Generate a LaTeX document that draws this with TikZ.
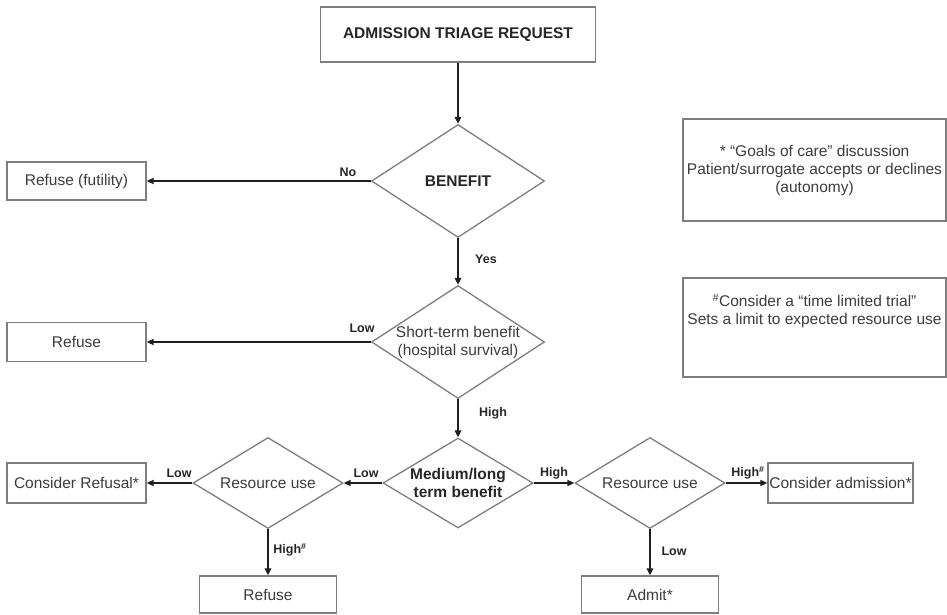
\documentclass[tikz,border=0pt]{standalone}
\usepackage{fontspec}
\setmainfont{Liberation Sans}
\usetikzlibrary{shapes.geometric,arrows.meta}

\definecolor{edge}{HTML}{7E7E7E}
\definecolor{wire}{HTML}{1E1E1E}
\definecolor{txt}{HTML}{3C3C3C}
\definecolor{dark}{HTML}{262626}

\begin{document}
\begin{tikzpicture}[x=1pt,y=-1pt,
  every node/.style={font=\fontsize{15.5}{18}\selectfont, text=txt},
  boldtext/.style={font=\bfseries\fontsize{15.5}{18}\selectfont, text=dark},
  box/.style={draw=edge, line width=1.3pt, rectangle, inner sep=0pt, align=center},
  dec/.style={draw=edge, line width=1.3pt, diamond, inner sep=-4pt, align=center},
  lbl/.style={font=\bfseries\fontsize{12.5}{14}\selectfont, text=dark, inner sep=0pt},
  arr/.style={draw=wire, line width=2pt, -{Triangle[length=7pt,width=6pt]}},
  arrv/.style={draw=wire, line width=2.6pt, -{Triangle[length=7pt,width=6.5pt]}},
]
\useasboundingbox (0,0) rectangle (947,615);

% main column
\node[box, boldtext, minimum width=275pt, minimum height=55pt] (req) at (458,34.5) {ADMISSION TRIAGE REQUEST};
\node[dec, boldtext, aspect=1.53, minimum width=173pt, minimum height=113pt] (ben) at (458,181) {BENEFIT};
\node[dec, aspect=1.53, minimum width=173pt, minimum height=113pt] (st) at (458,342) {Short-term benefit\\(hospital survival)};
\node[dec, boldtext, aspect=1.67, minimum width=150pt, minimum height=90pt] (med) at (458,483) {Medium/long\\term benefit};

% resource-use decisions
\node[dec, aspect=1.65, minimum width=150pt, minimum height=91pt] (resL) at (268,483) {Resource use};
\node[dec, aspect=1.65, minimum width=150pt, minimum height=91pt] (resR) at (650,483) {Resource use};

% outcomes
\node[box, minimum width=139pt, minimum height=38pt] (fut) at (76.5,181) {Refuse (futility)};
\node[box, minimum width=139pt, minimum height=39pt] (ref1) at (76.5,342) {Refuse};
\node[box, minimum width=139pt, minimum height=40pt] (crf) at (76.5,483) {Consider Refusal*};
\node[box, minimum width=137pt, minimum height=37pt] (ref2) at (268,594.5) {Refuse};
\node[box, minimum width=137pt, minimum height=37pt] (adm) at (650,594.5) {Admit*};
\node[box, minimum width=145pt, minimum height=40pt] (cad) at (840.5,483) {Consider admission*};

% footnote boxes
\node[box, minimum width=263pt, minimum height=102pt] (goals) at (814.5,170)
  {* “Goals of care” discussion\\Patient/surrogate accepts or declines\\(autonomy)};
\node[box, minimum width=263pt, minimum height=99pt] (trial) at (814.5,327.5) {};
\node[align=center, inner sep=0pt] (trialtext) at (814.5,311)
  {\textsuperscript{\#}Consider a “time limited trial”\\Sets a limit to expected resource use};

% connectors
\draw[arrv] (req.south) -- (ben.north);
\draw[arr]  (ben.west) -- (fut.east);
\draw[arrv] (ben.south) -- (st.north);
\draw[arr]  (st.west) -- (ref1.east);
\draw[arrv] (st.south) -- (med.north);
\draw[arr]  (med.west) -- (resL.east);
\draw[arr]  (med.east) -- (resR.west);
\draw[arr]  (resL.west) -- (crf.east);
\draw[arrv] (resL.south) -- (ref2.north);
\draw[arr]  (resR.east) -- (cad.west);
\draw[arrv] (resR.south) -- (adm.north);

% branch labels
\node[lbl] (lNo)    at (348,172) {No};
\node[lbl] (lYes)   at (486,259) {Yes};
\node[lbl] (lLowA)  at (362,328) {Low};
\node[lbl] (lHighA) at (493,413) {High};
\node[lbl] (lLowB)  at (366,473) {Low};
\node[lbl] (lHighB) at (554,473) {High};
\node[lbl] (lLowC)  at (179,473) {Low};
\node[lbl] (lHighC) at (290,550) {High\textsuperscript{\#}};
\node[lbl] (lHighD) at (748,473) {High\textsuperscript{\#}};
\node[lbl] (lLowD)  at (674,551) {Low};
\end{tikzpicture}
\end{document}
